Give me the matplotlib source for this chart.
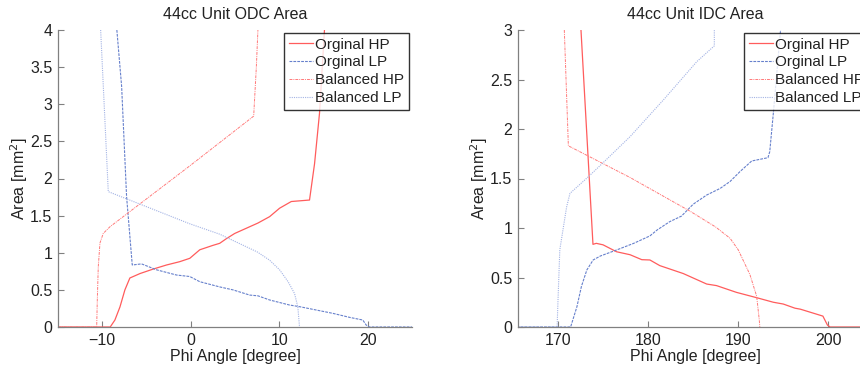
import matplotlib.pyplot as plt

plt.rcParams['font.family'] = ['Liberation Sans', 'DejaVu Sans']

labels = ['Orginal HP', 'Orginal LP', 'Balanced HP', 'Balanced LP']

# ODC area (left)
odc_orig_hp_x = [-15, -9.1, -8.57, -8.0, -7.44, -6.88, -5.73, -4.25, -2.74, -1.24, -0.11, 1.02,
                 2.52, 3.27, 4.03, 4.97, 6.28, 7.59, 8.91, 10.04, 11.36, 13.42, 13.99, 14.55, 15.11]
odc_orig_hp_y = [0, 0, 0.094, 0.27, 0.50, 0.66, 0.72, 0.78, 0.835, 0.88, 0.925, 1.04,
                 1.10, 1.127, 1.19, 1.26, 1.33, 1.40, 1.486, 1.60, 1.69, 1.71, 2.20, 2.88, 4.0]
odc_orig_lp_x = [-8.35, -7.81, -7.25, -6.61, -5.56, -3.86, -1.61, -0.11, 1.02, 3.27, 4.77, 6.66,
                 7.59, 8.91, 11.16, 12.29, 14.17, 16.05, 17.94, 19.44, 19.82, 20.19, 25]
odc_orig_lp_y = [4.0, 3.24, 1.755, 0.835, 0.85, 0.77, 0.70, 0.68, 0.61, 0.54, 0.50, 0.43,
                 0.42, 0.364, 0.296, 0.274, 0.229, 0.184, 0.13, 0.094, 0.027, 0, 0]
odc_bal_hp_x = [-15, -10.63, -10.56, -10.45, -10.26, -9.89, -9.13, -0.11, 7.11, 7.41, 7.59]
odc_bal_hp_y = [0, 0, 0.36, 0.81, 1.13, 1.26, 1.35, 2.17, 2.84, 3.5, 4.0]
odc_bal_lp_x = [-10.18, -9.32, -4.99, -0.11, 3.27, 7.53, 8.91, 10.04, 11.0, 11.73, 12.1, 12.29]
odc_bal_lp_y = [4.0, 1.823, 1.62, 1.39, 1.25, 1.01, 0.90, 0.77, 0.61, 0.45, 0.27, 0]

# IDC area (right)
idc_orig_hp_x = [172.55, 173.88, 174.25, 175.0, 176.5, 178.0, 179.3, 180.2, 181.3, 183.9, 186.5,
                 187.6, 189.8, 192.05, 193.9, 195.0, 196.3, 196.9, 199.4, 199.9, 200.2, 205]
idc_orig_hp_y = [3.0, 0.835, 0.845, 0.83, 0.76, 0.73, 0.68, 0.677, 0.62, 0.54, 0.434,
                 0.418, 0.35, 0.296, 0.25, 0.232, 0.19, 0.18, 0.11, 0.02, 0, 0]
idc_orig_lp_x = [165, 171.4, 172.1, 172.6, 173.2, 173.9, 174.7, 176.5, 178.4, 180.2, 181.0, 182.4,
                 183.7, 185.0, 186.5, 188.0, 189.1, 190.2, 191.5, 193.3, 193.5, 193.9, 194.7]
idc_orig_lp_y = [0, 0, 0.205, 0.41, 0.576, 0.677, 0.717, 0.778, 0.845, 0.92, 0.98, 1.064,
                 1.12, 1.24, 1.333, 1.40, 1.47, 1.57, 1.677, 1.71, 1.77, 2.16, 3.0]
idc_bal_hp_x = [170.7, 171.15, 178.0, 184.65, 187.5, 189.1, 190.0, 191.3, 192.05, 192.34, 192.4]
idc_bal_hp_y = [3.0, 1.83, 1.51, 1.17, 1.01, 0.896, 0.78, 0.53, 0.31, 0.07, 0]
idc_bal_lp_x = [165, 169.9, 170.0, 170.2, 170.6, 170.96, 171.33, 173.37, 174.85, 177.99,
                181.69, 185.4, 187.35, 187.35]
idc_bal_lp_y = [0, 0, 0.27, 0.78, 1.01, 1.215, 1.35, 1.518, 1.646, 1.922,
                2.293, 2.68, 2.84, 3.0]

styles = [
    dict(color='#ff5c5c', linestyle='-', linewidth=0.9),
    dict(color='#6680cc', linestyle=(0, (2.5, 1)), linewidth=0.8),
    dict(color='#ff7a7a', linestyle=(0, (3, 1, 1, 1)), linewidth=0.7),
    dict(color='#a3b3e4', linestyle=(0, (1, 1)), linewidth=0.8),
]

fig = plt.figure(figsize=(8.6, 3.66), dpi=100)
ax1 = fig.add_axes([58 / 860, 39 / 366, 354 / 860, 297 / 366])
ax2 = fig.add_axes([518 / 860, 39 / 366, 354 / 860, 297 / 366])

panels = [
    (ax1, '44cc Unit ODC Area',
     [(odc_orig_hp_x, odc_orig_hp_y), (odc_orig_lp_x, odc_orig_lp_y),
      (odc_bal_hp_x, odc_bal_hp_y), (odc_bal_lp_x, odc_bal_lp_y)],
     (-15, 25), (0, 4), [-10, 0, 10, 20], [0, 0.5, 1, 1.5, 2, 2.5, 3, 3.5, 4]),
    (ax2, '44cc Unit IDC Area',
     [(idc_orig_hp_x, idc_orig_hp_y), (idc_orig_lp_x, idc_orig_lp_y),
      (idc_bal_hp_x, idc_bal_hp_y), (idc_bal_lp_x, idc_bal_lp_y)],
     (165.56, 204.85), (0, 3), [170, 180, 190, 200], [0, 0.5, 1, 1.5, 2, 2.5, 3]),
]

for ax, title, series, xlim, ylim, xt, yt in panels:
    for (x, y), lab, st in zip(series, labels, styles):
        ax.plot(x, y, label=lab, **st)
    ax.set_xlim(*xlim)
    ax.set_ylim(*ylim)
    ax.set_xticks(xt)
    ax.set_yticks(yt)
    ax.set_yticklabels(['%g' % v for v in yt])
    ax.spines['top'].set_visible(False)
    ax.spines['right'].set_visible(False)
    for s in ['left', 'bottom']:
        ax.spines[s].set_color('#808080')
        ax.spines[s].set_linewidth(0.9)
    ax.tick_params(direction='in', length=4, width=0.8, color='#808080',
                   labelsize=11.5, labelcolor='#222222', pad=4)
    ax.set_title(title, fontsize=11.5, color='#222222', pad=8)
    ax.set_xlabel('Phi Angle [degree]', fontsize=11.5, color='#222222', labelpad=1)
    ax.set_ylabel('Area [mm$^2$]', fontsize=11.5, color='#222222', labelpad=0)
    leg = ax.legend(loc='upper right', fontsize=11, frameon=True, fancybox=False,
                    borderaxespad=0.2, handlelength=1.6, handletextpad=0.15,
                    labelspacing=0.25, borderpad=0.3)
    leg.get_frame().set_edgecolor('black')
    leg.get_frame().set_linewidth(1.0)
    for t in leg.get_texts():
        t.set_color('#222222')

fig.savefig('out.png', dpi=100)
